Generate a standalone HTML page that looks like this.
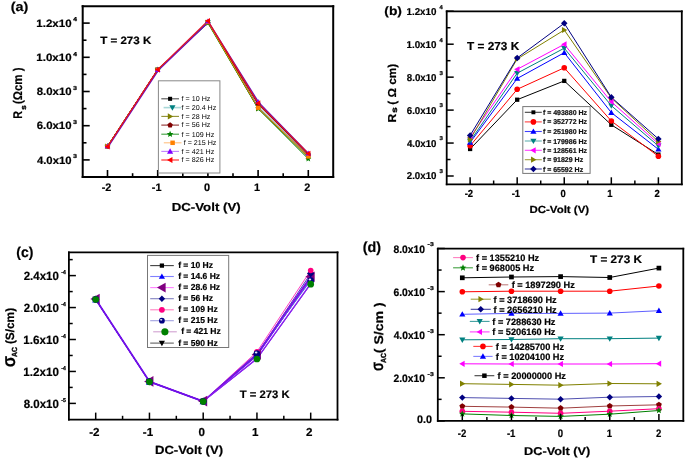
<!DOCTYPE html>
<html><head><meta charset="utf-8"><style>html,body{margin:0;padding:0;background:#fff;}body{width:685px;height:460px;overflow:hidden;}</style></head>
<body>
<svg width="685" height="460" viewBox="0 0 685 460" style="display:block;filter:blur(0.35px);text-rendering:geometricPrecision;font-family:'Liberation Sans',sans-serif">
<rect width="685" height="460" fill="#fff"/>
<polyline points="107.50,146.22 157.70,69.78 207.90,22.25 258.10,103.47 308.30,154.77" fill="none" stroke="#000000" stroke-width="1.0" stroke-linejoin="round" />
<polyline points="107.50,146.22 157.70,69.78 207.90,22.25 258.10,106.89 308.30,156.48" fill="none" stroke="#008080" stroke-width="1.0" stroke-linejoin="round" />
<polyline points="107.50,146.22 157.70,69.78 207.90,22.25 258.10,108.60 308.30,157.34" fill="none" stroke="#808000" stroke-width="1.0" stroke-linejoin="round" />
<polyline points="107.50,146.22 157.70,69.78 207.90,22.25 258.10,104.33 308.30,154.77" fill="none" stroke="#800000" stroke-width="1.0" stroke-linejoin="round" />
<polyline points="107.50,146.22 157.70,69.78 207.90,23.10 258.10,108.60 308.30,158.87" fill="none" stroke="#008000" stroke-width="1.0" stroke-linejoin="round" />
<polyline points="107.50,146.22 157.70,69.78 207.90,22.25 258.10,107.75 308.30,156.48" fill="none" stroke="#ff8000" stroke-width="1.0" stroke-linejoin="round" />
<polyline points="108.10,146.82 158.30,70.38 208.50,21.99 258.70,102.36 308.90,154.00" fill="none" stroke="#6a10c0" stroke-width="1.3" stroke-linejoin="round" />
<polyline points="107.50,146.56 157.70,69.61 207.90,20.88 258.10,103.13 308.30,153.57" fill="none" stroke="#e0102a" stroke-width="1.3" stroke-linejoin="round" />
<rect x="105.48" y="144.20" width="4.03" height="4.03" fill="#000000" />
<rect x="155.68" y="67.77" width="4.03" height="4.03" fill="#000000" />
<rect x="205.88" y="20.23" width="4.03" height="4.03" fill="#000000" />
<rect x="256.08" y="101.45" width="4.03" height="4.03" fill="#000000" />
<rect x="306.28" y="152.75" width="4.03" height="4.03" fill="#000000" />
<polygon points="107.50,149.05 110.33,144.09 104.67,144.09" fill="#008080" />
<polygon points="157.70,72.62 160.53,67.66 154.87,67.66" fill="#008080" />
<polygon points="207.90,25.08 210.73,20.12 205.07,20.12" fill="#008080" />
<polygon points="258.10,109.72 260.93,104.76 255.27,104.76" fill="#008080" />
<polygon points="308.30,159.31 311.13,154.35 305.47,154.35" fill="#008080" />
<polygon points="110.33,146.22 105.37,143.39 105.37,149.05" fill="#808000" />
<polygon points="160.53,69.78 155.57,66.95 155.57,72.62" fill="#808000" />
<polygon points="210.73,22.25 205.77,19.41 205.77,25.08" fill="#808000" />
<polygon points="260.93,108.60 255.97,105.77 255.97,111.43" fill="#808000" />
<polygon points="311.13,157.34 306.17,154.50 306.17,160.17" fill="#808000" />
<polygon points="107.50,143.75 109.64,144.99 109.64,147.45 107.50,148.69 105.36,147.45 105.36,144.99" fill="#800000" />
<polygon points="157.70,67.31 159.84,68.55 159.84,71.02 157.70,72.25 155.56,71.02 155.56,68.55" fill="#800000" />
<polygon points="207.90,19.78 210.04,21.01 210.04,23.48 207.90,24.71 205.76,23.48 205.76,21.01" fill="#800000" />
<polygon points="258.10,101.86 260.24,103.09 260.24,105.56 258.10,106.79 255.96,105.56 255.96,103.09" fill="#800000" />
<polygon points="308.30,152.30 310.44,153.54 310.44,156.00 308.30,157.24 306.16,156.00 306.16,153.54" fill="#800000" />
<polygon points="107.50,143.00 108.35,145.05 110.56,145.22 108.88,146.67 109.39,148.83 107.50,147.67 105.61,148.83 106.12,146.67 104.44,145.22 106.65,145.05" fill="#008000" />
<polygon points="157.70,66.56 158.55,68.61 160.76,68.79 159.08,70.23 159.59,72.39 157.70,71.23 155.81,72.39 156.32,70.23 154.64,68.79 156.85,68.61" fill="#008000" />
<polygon points="207.90,19.88 208.75,21.93 210.96,22.10 209.28,23.55 209.79,25.71 207.90,24.55 206.01,25.71 206.52,23.55 204.84,22.10 207.05,21.93" fill="#008000" />
<polygon points="258.10,105.38 258.95,107.43 261.16,107.60 259.48,109.05 259.99,111.21 258.10,110.05 256.21,111.21 256.72,109.05 255.04,107.60 257.25,107.43" fill="#008000" />
<polygon points="308.30,155.65 309.15,157.70 311.36,157.88 309.68,159.32 310.19,161.48 308.30,160.32 306.41,161.48 306.92,159.32 305.24,157.88 307.45,157.70" fill="#008000" />
<rect x="105.37" y="144.09" width="4.26" height="4.26" fill="#ff8000" />
<rect x="155.57" y="67.66" width="4.26" height="4.26" fill="#ff8000" />
<rect x="205.77" y="20.12" width="4.26" height="4.26" fill="#ff8000" />
<rect x="255.97" y="105.62" width="4.26" height="4.26" fill="#ff8000" />
<rect x="306.17" y="154.35" width="4.26" height="4.26" fill="#ff8000" />
<polygon points="107.50,143.39 110.33,148.35 104.67,148.35" fill="#8000ff" />
<polygon points="157.70,66.95 160.53,71.91 154.87,71.91" fill="#8000ff" />
<polygon points="207.90,18.56 210.73,23.52 205.07,23.52" fill="#8000ff" />
<polygon points="258.10,98.93 260.93,103.89 255.27,103.89" fill="#8000ff" />
<polygon points="308.30,150.57 311.13,155.53 305.47,155.53" fill="#8000ff" />
<polygon points="104.67,146.56 109.63,143.73 109.63,149.40" fill="#ff0000" />
<polygon points="154.87,69.61 159.83,66.78 159.83,72.45" fill="#ff0000" />
<polygon points="205.07,20.88 210.03,18.04 210.03,23.71" fill="#ff0000" />
<polygon points="255.27,103.13 260.23,100.29 260.23,105.96" fill="#ff0000" />
<polygon points="305.47,153.57 310.43,150.74 310.43,156.41" fill="#ff0000" />
<line x1="82.70" y1="5.20" x2="82.70" y2="178.00" stroke="#000" stroke-width="2.0" />
<line x1="333.20" y1="5.20" x2="333.20" y2="178.00" stroke="#000" stroke-width="2.0" />
<line x1="81.70" y1="6.20" x2="334.20" y2="6.20" stroke="#000" stroke-width="2.0" />
<line x1="81.70" y1="177.00" x2="334.20" y2="177.00" stroke="#000" stroke-width="2.0" />
<line x1="107.50" y1="177.00" x2="107.50" y2="170.00" stroke="#000" stroke-width="1.6" />
<line x1="157.70" y1="177.00" x2="157.70" y2="170.00" stroke="#000" stroke-width="1.6" />
<line x1="207.90" y1="177.00" x2="207.90" y2="170.00" stroke="#000" stroke-width="1.6" />
<line x1="258.10" y1="177.00" x2="258.10" y2="170.00" stroke="#000" stroke-width="1.6" />
<line x1="308.30" y1="177.00" x2="308.30" y2="170.00" stroke="#000" stroke-width="1.6" />
<line x1="132.60" y1="177.00" x2="132.60" y2="173.20" stroke="#000" stroke-width="1.6" />
<line x1="182.80" y1="177.00" x2="182.80" y2="173.20" stroke="#000" stroke-width="1.6" />
<line x1="233.00" y1="177.00" x2="233.00" y2="173.20" stroke="#000" stroke-width="1.6" />
<line x1="283.20" y1="177.00" x2="283.20" y2="173.20" stroke="#000" stroke-width="1.6" />
<line x1="82.70" y1="159.90" x2="89.70" y2="159.90" stroke="#000" stroke-width="1.6" />
<line x1="82.70" y1="125.70" x2="89.70" y2="125.70" stroke="#000" stroke-width="1.6" />
<line x1="82.70" y1="91.50" x2="89.70" y2="91.50" stroke="#000" stroke-width="1.6" />
<line x1="82.70" y1="57.30" x2="89.70" y2="57.30" stroke="#000" stroke-width="1.6" />
<line x1="82.70" y1="23.10" x2="89.70" y2="23.10" stroke="#000" stroke-width="1.6" />
<line x1="82.70" y1="142.80" x2="86.50" y2="142.80" stroke="#000" stroke-width="1.6" />
<line x1="82.70" y1="108.60" x2="86.50" y2="108.60" stroke="#000" stroke-width="1.6" />
<line x1="82.70" y1="74.40" x2="86.50" y2="74.40" stroke="#000" stroke-width="1.6" />
<line x1="82.70" y1="40.20" x2="86.50" y2="40.20" stroke="#000" stroke-width="1.6" />
<text x="36.93" y="163.60" font-size="10.6" font-weight="bold" fill="#000" stroke="#000" stroke-width="0.2" textLength="34.64" lengthAdjust="spacingAndGlyphs">4.0x10</text>
<text x="73.13" y="158.10" font-size="5.8" font-weight="bold" fill="#000" stroke="#000" stroke-width="0.25" textLength="4.03" lengthAdjust="spacingAndGlyphs">3</text>
<text x="36.68" y="129.40" font-size="10.6" font-weight="bold" fill="#000" stroke="#000" stroke-width="0.2" textLength="34.89" lengthAdjust="spacingAndGlyphs">6.0x10</text>
<text x="73.13" y="123.90" font-size="5.8" font-weight="bold" fill="#000" stroke="#000" stroke-width="0.25" textLength="4.03" lengthAdjust="spacingAndGlyphs">3</text>
<text x="36.74" y="95.20" font-size="10.6" font-weight="bold" fill="#000" stroke="#000" stroke-width="0.2" textLength="34.83" lengthAdjust="spacingAndGlyphs">8.0x10</text>
<text x="73.13" y="89.70" font-size="5.8" font-weight="bold" fill="#000" stroke="#000" stroke-width="0.25" textLength="4.03" lengthAdjust="spacingAndGlyphs">3</text>
<text x="36.38" y="61.00" font-size="10.6" font-weight="bold" fill="#000" stroke="#000" stroke-width="0.2" textLength="35.20" lengthAdjust="spacingAndGlyphs">1.0x10</text>
<text x="73.20" y="55.50" font-size="5.8" font-weight="bold" fill="#000" stroke="#000" stroke-width="0.25" textLength="3.74" lengthAdjust="spacingAndGlyphs">4</text>
<text x="36.38" y="26.80" font-size="10.6" font-weight="bold" fill="#000" stroke="#000" stroke-width="0.2" textLength="35.20" lengthAdjust="spacingAndGlyphs">1.2x10</text>
<text x="73.20" y="21.30" font-size="5.8" font-weight="bold" fill="#000" stroke="#000" stroke-width="0.25" textLength="3.74" lengthAdjust="spacingAndGlyphs">4</text>
<text x="101.66" y="190.60" font-size="10.9" font-weight="bold" fill="#000" stroke="#000" stroke-width="0.2" textLength="9.69" lengthAdjust="spacingAndGlyphs">-2</text>
<text x="151.79" y="190.60" font-size="10.9" font-weight="bold" fill="#000" stroke="#000" stroke-width="0.2" textLength="9.69" lengthAdjust="spacingAndGlyphs">-1</text>
<text x="203.88" y="190.60" font-size="10.9" font-weight="bold" fill="#000" stroke="#000" stroke-width="0.2" textLength="6.06" lengthAdjust="spacingAndGlyphs">0</text>
<text x="253.88" y="190.60" font-size="10.9" font-weight="bold" fill="#000" stroke="#000" stroke-width="0.2" textLength="6.06" lengthAdjust="spacingAndGlyphs">1</text>
<text x="304.30" y="190.60" font-size="10.9" font-weight="bold" fill="#000" stroke="#000" stroke-width="0.2" textLength="6.06" lengthAdjust="spacingAndGlyphs">2</text>
<text x="171.73" y="210.50" font-size="11.6" font-weight="bold" fill="#000" stroke="#000" stroke-width="0.2" textLength="68.92" lengthAdjust="spacingAndGlyphs">DC-Volt (V)</text>
<g transform="translate(22.0,118.6) rotate(-90)">
<text x="-0.12" y="0.00" font-size="12.6" font-weight="bold" fill="#000" stroke="#000" stroke-width="0.2" textLength="7.74" lengthAdjust="spacingAndGlyphs">R</text>
<text x="8.81" y="3.90" font-size="7.5" font-weight="bold" fill="#000" stroke="#000" stroke-width="0.35" textLength="4.52" lengthAdjust="spacingAndGlyphs">s</text>
<text x="14.53" y="0.00" font-size="12.6" font-weight="bold" fill="#000" stroke="#000" stroke-width="0.2" textLength="36.54" lengthAdjust="spacingAndGlyphs">(Ωcm )</text>
</g>
<text x="100.17" y="44.10" font-size="10.6" font-weight="bold" fill="#000" stroke="#000" stroke-width="0.2" textLength="51.14" lengthAdjust="spacingAndGlyphs">T = 273 K</text>
<text x="10.69" y="11.00" font-size="12.9" font-weight="bold" fill="#000" stroke="#000" stroke-width="0.2" textLength="17.53" lengthAdjust="spacingAndGlyphs">(a)</text>
<rect x="158.4" y="80.8" width="61.5" height="92.2" fill="#fff" stroke="#888" stroke-width="1"/>
<line x1="161.30" y1="98.80" x2="179.00" y2="98.80" stroke="#505050" stroke-width="1.1" />
<rect x="168.08" y="96.78" width="4.03" height="4.03" fill="#000000" />
<text x="181.60" y="101.10" font-size="7.0" font-weight="normal" fill="#000" textLength="28.77" lengthAdjust="spacingAndGlyphs">f = 10 Hz</text>
<line x1="163.60" y1="107.60" x2="181.30" y2="107.60" stroke="#a8d8d8" stroke-width="1.6" />
<polygon points="172.40,110.68 175.48,105.29 169.32,105.29" fill="#008080" />
<text x="181.60" y="109.90" font-size="7.0" font-weight="normal" fill="#000" textLength="34.73" lengthAdjust="spacingAndGlyphs">f = 20.4 Hz</text>
<line x1="161.30" y1="116.40" x2="179.00" y2="116.40" stroke="#909030" stroke-width="1.1" />
<polygon points="173.18,116.40 167.79,113.32 167.79,119.48" fill="#808000" />
<text x="181.60" y="118.70" font-size="7.0" font-weight="normal" fill="#000" textLength="28.77" lengthAdjust="spacingAndGlyphs">f = 28 Hz</text>
<line x1="161.30" y1="125.10" x2="179.00" y2="125.10" stroke="#903030" stroke-width="1.1" />
<polygon points="170.10,122.27 172.79,124.22 171.77,127.39 168.43,127.39 167.41,124.22" fill="#800000" />
<text x="181.60" y="127.40" font-size="7.0" font-weight="normal" fill="#000" textLength="28.77" lengthAdjust="spacingAndGlyphs">f = 56 Hz</text>
<line x1="161.30" y1="134.20" x2="179.00" y2="134.20" stroke="#40a040" stroke-width="1.1" />
<polygon points="170.10,130.70 171.03,132.93 173.43,133.12 171.60,134.69 172.16,137.03 170.10,135.77 168.04,137.03 168.60,134.69 166.77,133.12 169.17,132.93" fill="#008000" />
<text x="181.60" y="136.50" font-size="7.0" font-weight="normal" fill="#000" textLength="32.74" lengthAdjust="spacingAndGlyphs">f = 109 Hz</text>
<line x1="163.80" y1="142.80" x2="181.50" y2="142.80" stroke="#ffc080" stroke-width="1.1" />
<rect x="170.36" y="140.56" width="4.48" height="4.48" fill="#ff8000" />
<text x="183.70" y="145.10" font-size="7.0" font-weight="normal" fill="#000" textLength="32.74" lengthAdjust="spacingAndGlyphs">f = 215 Hz</text>
<line x1="161.30" y1="151.40" x2="179.00" y2="151.40" stroke="#c080ff" stroke-width="1.1" />
<polygon points="170.10,148.32 173.18,153.71 167.02,153.71" fill="#8000ff" />
<text x="181.60" y="153.70" font-size="7.0" font-weight="normal" fill="#000" textLength="32.74" lengthAdjust="spacingAndGlyphs">f = 421 Hz</text>
<line x1="161.30" y1="160.00" x2="179.00" y2="160.00" stroke="#ff2020" stroke-width="1.1" />
<polygon points="167.02,160.00 172.41,156.92 172.41,163.08" fill="#ff0000" />
<text x="181.60" y="162.30" font-size="7.0" font-weight="normal" fill="#000" textLength="32.74" lengthAdjust="spacingAndGlyphs">f = 826 Hz</text>
<polyline points="470.11,149.00 517.18,99.70 564.25,80.90 611.32,124.80 658.39,154.60" fill="none" stroke="#000000" stroke-width="1.0" stroke-linejoin="round" />
<polyline points="470.11,145.80 517.18,89.30 564.25,67.80 611.32,121.00 658.39,156.30" fill="none" stroke="#ff0000" stroke-width="1.0" stroke-linejoin="round" />
<polyline points="470.11,142.50 517.18,78.50 564.25,52.70 611.32,112.60 658.39,149.30" fill="none" stroke="#0000ff" stroke-width="1.0" stroke-linejoin="round" />
<polyline points="470.11,141.00 517.18,73.20 564.25,48.20 611.32,105.70 658.39,145.90" fill="none" stroke="#008080" stroke-width="1.0" stroke-linejoin="round" />
<polyline points="470.11,137.50 517.18,69.30 564.25,44.30 611.32,101.80 658.39,143.70" fill="none" stroke="#ff00ff" stroke-width="1.0" stroke-linejoin="round" />
<polyline points="470.11,139.30 517.18,59.00 564.25,30.00 611.32,98.00 658.39,141.50" fill="none" stroke="#808000" stroke-width="1.0" stroke-linejoin="round" />
<polyline points="470.11,135.40 517.18,58.00 564.25,23.30 611.32,97.30 658.39,138.90" fill="none" stroke="#000080" stroke-width="1.0" stroke-linejoin="round" />
<rect x="467.98" y="146.87" width="4.26" height="4.26" fill="#000000" />
<rect x="515.05" y="97.57" width="4.26" height="4.26" fill="#000000" />
<rect x="562.12" y="78.77" width="4.26" height="4.26" fill="#000000" />
<rect x="609.19" y="122.67" width="4.26" height="4.26" fill="#000000" />
<rect x="656.26" y="152.47" width="4.26" height="4.26" fill="#000000" />
<circle cx="470.11" cy="145.80" r="2.80" fill="#ff0000" />
<circle cx="517.18" cy="89.30" r="2.80" fill="#ff0000" />
<circle cx="564.25" cy="67.80" r="2.80" fill="#ff0000" />
<circle cx="611.32" cy="121.00" r="2.80" fill="#ff0000" />
<circle cx="658.39" cy="156.30" r="2.80" fill="#ff0000" />
<polygon points="470.11,139.42 473.19,144.81 467.03,144.81" fill="#0000ff" />
<polygon points="517.18,75.42 520.26,80.81 514.10,80.81" fill="#0000ff" />
<polygon points="564.25,49.62 567.33,55.01 561.17,55.01" fill="#0000ff" />
<polygon points="611.32,109.52 614.40,114.91 608.24,114.91" fill="#0000ff" />
<polygon points="658.39,146.22 661.47,151.61 655.31,151.61" fill="#0000ff" />
<polygon points="470.11,144.08 473.19,138.69 467.03,138.69" fill="#008080" />
<polygon points="517.18,76.28 520.26,70.89 514.10,70.89" fill="#008080" />
<polygon points="564.25,51.28 567.33,45.89 561.17,45.89" fill="#008080" />
<polygon points="611.32,108.78 614.40,103.39 608.24,103.39" fill="#008080" />
<polygon points="658.39,148.98 661.47,143.59 655.31,143.59" fill="#008080" />
<polygon points="467.03,137.50 472.42,134.42 472.42,140.58" fill="#ff00ff" />
<polygon points="514.10,69.30 519.49,66.22 519.49,72.38" fill="#ff00ff" />
<polygon points="561.17,44.30 566.56,41.22 566.56,47.38" fill="#ff00ff" />
<polygon points="608.24,101.80 613.63,98.72 613.63,104.88" fill="#ff00ff" />
<polygon points="655.31,143.70 660.70,140.62 660.70,146.78" fill="#ff00ff" />
<polygon points="473.19,139.30 467.80,136.22 467.80,142.38" fill="#808000" />
<polygon points="520.26,59.00 514.87,55.92 514.87,62.08" fill="#808000" />
<polygon points="567.33,30.00 561.94,26.92 561.94,33.08" fill="#808000" />
<polygon points="614.40,98.00 609.01,94.92 609.01,101.08" fill="#808000" />
<polygon points="661.47,141.50 656.08,138.42 656.08,144.58" fill="#808000" />
<polygon points="470.11,132.18 473.33,135.40 470.11,138.62 466.89,135.40" fill="#000080" />
<polygon points="517.18,54.78 520.40,58.00 517.18,61.22 513.96,58.00" fill="#000080" />
<polygon points="564.25,20.08 567.47,23.30 564.25,26.52 561.03,23.30" fill="#000080" />
<polygon points="611.32,94.08 614.54,97.30 611.32,100.52 608.10,97.30" fill="#000080" />
<polygon points="658.39,135.68 661.61,138.90 658.39,142.12 655.17,138.90" fill="#000080" />
<line x1="446.70" y1="10.40" x2="446.70" y2="185.20" stroke="#000" stroke-width="1.8" />
<line x1="681.80" y1="10.40" x2="681.80" y2="185.20" stroke="#000" stroke-width="1.8" />
<line x1="445.80" y1="11.30" x2="682.70" y2="11.30" stroke="#000" stroke-width="1.8" />
<line x1="445.80" y1="184.30" x2="682.70" y2="184.30" stroke="#000" stroke-width="1.8" />
<line x1="470.11" y1="184.30" x2="470.11" y2="177.30" stroke="#000" stroke-width="1.5" />
<line x1="517.18" y1="184.30" x2="517.18" y2="177.30" stroke="#000" stroke-width="1.5" />
<line x1="564.25" y1="184.30" x2="564.25" y2="177.30" stroke="#000" stroke-width="1.5" />
<line x1="611.32" y1="184.30" x2="611.32" y2="177.30" stroke="#000" stroke-width="1.5" />
<line x1="658.39" y1="184.30" x2="658.39" y2="177.30" stroke="#000" stroke-width="1.5" />
<line x1="493.64" y1="184.30" x2="493.64" y2="180.50" stroke="#000" stroke-width="1.5" />
<line x1="540.72" y1="184.30" x2="540.72" y2="180.50" stroke="#000" stroke-width="1.5" />
<line x1="587.78" y1="184.30" x2="587.78" y2="180.50" stroke="#000" stroke-width="1.5" />
<line x1="634.86" y1="184.30" x2="634.86" y2="180.50" stroke="#000" stroke-width="1.5" />
<line x1="446.70" y1="176.00" x2="453.70" y2="176.00" stroke="#000" stroke-width="1.5" />
<line x1="446.70" y1="143.05" x2="453.70" y2="143.05" stroke="#000" stroke-width="1.5" />
<line x1="446.70" y1="110.10" x2="453.70" y2="110.10" stroke="#000" stroke-width="1.5" />
<line x1="446.70" y1="77.15" x2="453.70" y2="77.15" stroke="#000" stroke-width="1.5" />
<line x1="446.70" y1="44.20" x2="453.70" y2="44.20" stroke="#000" stroke-width="1.5" />
<line x1="446.70" y1="11.25" x2="453.70" y2="11.25" stroke="#000" stroke-width="1.5" />
<line x1="446.70" y1="159.53" x2="450.50" y2="159.53" stroke="#000" stroke-width="1.5" />
<line x1="446.70" y1="126.58" x2="450.50" y2="126.58" stroke="#000" stroke-width="1.5" />
<line x1="446.70" y1="93.62" x2="450.50" y2="93.62" stroke="#000" stroke-width="1.5" />
<line x1="446.70" y1="60.67" x2="450.50" y2="60.67" stroke="#000" stroke-width="1.5" />
<line x1="446.70" y1="27.72" x2="450.50" y2="27.72" stroke="#000" stroke-width="1.5" />
<text x="406.76" y="179.45" font-size="10.0" font-weight="bold" fill="#000" stroke="#000" stroke-width="0.2" textLength="29.74" lengthAdjust="spacingAndGlyphs">2.0x10</text>
<text x="439.46" y="173.35" font-size="5.6" font-weight="bold" fill="#000" stroke="#000" stroke-width="0.25" textLength="3.47" lengthAdjust="spacingAndGlyphs">3</text>
<text x="406.95" y="146.50" font-size="10.0" font-weight="bold" fill="#000" stroke="#000" stroke-width="0.2" textLength="29.54" lengthAdjust="spacingAndGlyphs">4.0x10</text>
<text x="439.46" y="140.40" font-size="5.6" font-weight="bold" fill="#000" stroke="#000" stroke-width="0.25" textLength="3.47" lengthAdjust="spacingAndGlyphs">3</text>
<text x="406.74" y="113.55" font-size="10.0" font-weight="bold" fill="#000" stroke="#000" stroke-width="0.2" textLength="29.76" lengthAdjust="spacingAndGlyphs">6.0x10</text>
<text x="439.46" y="107.45" font-size="5.6" font-weight="bold" fill="#000" stroke="#000" stroke-width="0.25" textLength="3.47" lengthAdjust="spacingAndGlyphs">3</text>
<text x="406.79" y="80.60" font-size="10.0" font-weight="bold" fill="#000" stroke="#000" stroke-width="0.2" textLength="29.71" lengthAdjust="spacingAndGlyphs">8.0x10</text>
<text x="439.46" y="74.50" font-size="5.6" font-weight="bold" fill="#000" stroke="#000" stroke-width="0.25" textLength="3.47" lengthAdjust="spacingAndGlyphs">3</text>
<text x="406.48" y="47.65" font-size="10.0" font-weight="bold" fill="#000" stroke="#000" stroke-width="0.2" textLength="30.02" lengthAdjust="spacingAndGlyphs">1.0x10</text>
<text x="439.51" y="41.55" font-size="5.6" font-weight="bold" fill="#000" stroke="#000" stroke-width="0.25" textLength="3.22" lengthAdjust="spacingAndGlyphs">4</text>
<text x="406.48" y="14.70" font-size="10.0" font-weight="bold" fill="#000" stroke="#000" stroke-width="0.2" textLength="30.02" lengthAdjust="spacingAndGlyphs">1.2x10</text>
<text x="439.51" y="8.60" font-size="5.6" font-weight="bold" fill="#000" stroke="#000" stroke-width="0.25" textLength="3.22" lengthAdjust="spacingAndGlyphs">4</text>
<text x="464.70" y="197.20" font-size="10.3" font-weight="bold" fill="#000" stroke="#000" stroke-width="0.2" textLength="8.43" lengthAdjust="spacingAndGlyphs">-2</text>
<text x="511.71" y="197.20" font-size="10.3" font-weight="bold" fill="#000" stroke="#000" stroke-width="0.2" textLength="8.43" lengthAdjust="spacingAndGlyphs">-1</text>
<text x="560.42" y="197.20" font-size="10.3" font-weight="bold" fill="#000" stroke="#000" stroke-width="0.2" textLength="5.27" lengthAdjust="spacingAndGlyphs">0</text>
<text x="607.32" y="197.20" font-size="10.3" font-weight="bold" fill="#000" stroke="#000" stroke-width="0.2" textLength="5.27" lengthAdjust="spacingAndGlyphs">1</text>
<text x="654.58" y="197.20" font-size="10.3" font-weight="bold" fill="#000" stroke="#000" stroke-width="0.2" textLength="5.27" lengthAdjust="spacingAndGlyphs">2</text>
<text x="529.44" y="213.30" font-size="10.3" font-weight="bold" fill="#000" stroke="#000" stroke-width="0.2" textLength="59.72" lengthAdjust="spacingAndGlyphs">DC-Volt (V)</text>
<g transform="translate(396.0,122.2) rotate(-90)">
<text x="-0.21" y="0.00" font-size="11.5" font-weight="bold" fill="#000" stroke="#000" stroke-width="0.2" textLength="8.76" lengthAdjust="spacingAndGlyphs">R</text>
<text x="9.36" y="1.00" font-size="8.0" font-weight="bold" fill="#000" stroke="#000" stroke-width="0.35" textLength="5.45" lengthAdjust="spacingAndGlyphs">s</text>
<text x="17.51" y="0.00" font-size="11.5" font-weight="bold" fill="#000" stroke="#000" stroke-width="0.2" textLength="40.87" lengthAdjust="spacingAndGlyphs">( Ω cm)</text>
</g>
<text x="467.07" y="50.20" font-size="11.6" font-weight="bold" fill="#000" stroke="#000" stroke-width="0.2" textLength="52.14" lengthAdjust="spacingAndGlyphs">T = 273 K</text>
<text x="384.31" y="15.30" font-size="12.0" font-weight="bold" fill="#000" stroke="#000" stroke-width="0.2" textLength="17.68" lengthAdjust="spacingAndGlyphs">(b)</text>
<rect x="522.8" y="106.6" width="67.30000000000007" height="66.80000000000001" fill="#fff" stroke="#777" stroke-width="1"/>
<line x1="524.80" y1="112.30" x2="541.80" y2="112.30" stroke="#404040" stroke-width="1.1" />
<rect x="531.44" y="110.34" width="3.92" height="3.92" fill="#000000" />
<text x="542.88" y="114.80" font-size="7.0" font-weight="bold" fill="#111" stroke="#111" stroke-width="0.2" textLength="44.17" lengthAdjust="spacingAndGlyphs">f = 493880 Hz</text>
<line x1="524.80" y1="121.90" x2="541.80" y2="121.90" stroke="#ff4040" stroke-width="1.1" />
<circle cx="533.40" cy="121.90" r="2.80" fill="#ff0000" />
<text x="542.88" y="124.40" font-size="7.0" font-weight="bold" fill="#111" stroke="#111" stroke-width="0.2" textLength="44.17" lengthAdjust="spacingAndGlyphs">f = 352772 Hz</text>
<line x1="524.80" y1="131.50" x2="541.80" y2="131.50" stroke="#4040ff" stroke-width="1.1" />
<polygon points="533.40,128.42 536.48,133.81 530.32,133.81" fill="#0000ff" />
<text x="542.88" y="134.00" font-size="7.0" font-weight="bold" fill="#111" stroke="#111" stroke-width="0.2" textLength="44.17" lengthAdjust="spacingAndGlyphs">f = 251980 Hz</text>
<line x1="524.80" y1="141.00" x2="541.80" y2="141.00" stroke="#a0d0d0" stroke-width="1.8" />
<polygon points="533.40,144.08 536.48,138.69 530.32,138.69" fill="#008080" />
<text x="542.88" y="143.50" font-size="7.0" font-weight="bold" fill="#111" stroke="#111" stroke-width="0.2" textLength="44.17" lengthAdjust="spacingAndGlyphs">f = 179986 Hz</text>
<line x1="524.80" y1="150.30" x2="541.80" y2="150.30" stroke="#ff40ff" stroke-width="1.1" />
<polygon points="530.32,150.30 535.71,147.22 535.71,153.38" fill="#ff00ff" />
<text x="542.88" y="152.80" font-size="7.0" font-weight="bold" fill="#111" stroke="#111" stroke-width="0.2" textLength="44.17" lengthAdjust="spacingAndGlyphs">f = 128561 Hz</text>
<line x1="524.80" y1="159.70" x2="541.80" y2="159.70" stroke="#a0a040" stroke-width="1.1" />
<polygon points="536.48,159.70 531.09,156.62 531.09,162.78" fill="#808000" />
<text x="542.88" y="162.20" font-size="7.0" font-weight="bold" fill="#111" stroke="#111" stroke-width="0.2" textLength="40.27" lengthAdjust="spacingAndGlyphs">f = 91829 Hz</text>
<line x1="524.80" y1="169.00" x2="541.80" y2="169.00" stroke="#4040a0" stroke-width="1.1" />
<polygon points="533.40,165.78 536.62,169.00 533.40,172.22 530.18,169.00" fill="#000080" />
<text x="542.88" y="171.50" font-size="7.0" font-weight="bold" fill="#111" stroke="#111" stroke-width="0.2" textLength="40.27" lengthAdjust="spacingAndGlyphs">f = 65592 Hz</text>
<polyline points="95.70,299.30 149.45,381.60 203.20,401.30 256.95,356.00 310.70,278.00" fill="none" stroke="#7010e8" stroke-width="1.0" stroke-linejoin="round" />
<polyline points="95.70,299.30 149.45,381.60 203.20,401.30 256.95,355.50 310.70,277.50" fill="none" stroke="#8010e0" stroke-width="1.0" stroke-linejoin="round" />
<polyline points="95.70,299.00 149.45,381.40 203.20,401.10 256.95,354.50 310.70,276.70" fill="none" stroke="#c040e0" stroke-width="1.0" stroke-linejoin="round" />
<polyline points="95.70,299.80 149.45,382.00 203.20,401.60 256.95,355.00 310.70,279.50" fill="none" stroke="#6020ff" stroke-width="1.0" stroke-linejoin="round" />
<polyline points="95.70,299.30 149.45,381.60 203.20,401.30 256.95,354.50 310.70,273.50" fill="none" stroke="#5030c0" stroke-width="1.0" stroke-linejoin="round" />
<polyline points="95.70,299.30 149.45,381.60 203.20,401.30 256.95,351.80 310.70,270.50" fill="none" stroke="#ff40c0" stroke-width="1.0" stroke-linejoin="round" />
<polyline points="95.70,299.30 149.45,381.60 203.20,401.30 256.95,353.50 310.70,280.50" fill="none" stroke="#6060e0" stroke-width="1.0" stroke-linejoin="round" />
<polyline points="95.70,299.50 149.45,381.80 203.20,401.50 256.95,359.00 310.70,284.20" fill="none" stroke="#9040e0" stroke-width="1.0" stroke-linejoin="round" />
<polyline points="95.70,299.30 149.45,381.60 203.20,401.30" fill="none" stroke="#7010e8" stroke-width="1.8" stroke-linejoin="round" />
<polyline points="203.20,401.30 256.95,353.80 310.70,276.50" fill="none" stroke="#7a10e0" stroke-width="1.4" stroke-linejoin="round" />
<polyline points="203.20,401.30 256.95,358.60 310.70,283.60" fill="none" stroke="#8a20f0" stroke-width="1.4" stroke-linejoin="round" />
<polygon points="95.70,302.75 99.15,296.71 92.25,296.71" fill="#000000" />
<polygon points="149.45,385.05 152.90,379.01 146.00,379.01" fill="#000000" />
<polygon points="203.20,404.75 206.65,398.71 199.75,398.71" fill="#000000" />
<polygon points="256.95,359.45 260.40,353.41 253.50,353.41" fill="#000000" />
<polygon points="310.70,281.45 314.15,275.41 307.25,275.41" fill="#000000" />
<rect x="93.35" y="296.95" width="4.70" height="4.70" fill="#000000" />
<rect x="147.10" y="379.25" width="4.70" height="4.70" fill="#000000" />
<rect x="200.85" y="398.95" width="4.70" height="4.70" fill="#000000" />
<rect x="254.60" y="353.15" width="4.70" height="4.70" fill="#000000" />
<rect x="308.35" y="275.15" width="4.70" height="4.70" fill="#000000" />
<polygon points="90.40,299.00 99.67,293.70 99.67,304.30" fill="#800080" />
<polygon points="144.15,381.40 153.42,376.10 153.42,386.70" fill="#800080" />
<polygon points="197.90,401.10 207.17,395.80 207.17,406.40" fill="#800080" />
<polygon points="251.65,354.50 260.92,349.20 260.92,359.80" fill="#800080" />
<polygon points="305.40,276.70 314.67,271.40 314.67,282.00" fill="#800080" />
<polygon points="95.70,296.23 99.27,302.48 92.13,302.48" fill="#0000ff" />
<polygon points="149.45,378.43 153.02,384.68 145.88,384.68" fill="#0000ff" />
<polygon points="203.20,398.03 206.77,404.28 199.63,404.28" fill="#0000ff" />
<polygon points="256.95,351.43 260.52,357.68 253.38,357.68" fill="#0000ff" />
<polygon points="310.70,275.93 314.27,282.18 307.13,282.18" fill="#0000ff" />
<polygon points="95.70,295.56 99.44,299.30 95.70,303.04 91.96,299.30" fill="#000080" />
<polygon points="149.45,377.86 153.19,381.60 149.45,385.34 145.71,381.60" fill="#000080" />
<polygon points="203.20,397.56 206.94,401.30 203.20,405.04 199.46,401.30" fill="#000080" />
<polygon points="256.95,350.76 260.69,354.50 256.95,358.24 253.21,354.50" fill="#000080" />
<polygon points="310.70,269.76 314.44,273.50 310.70,277.24 306.96,273.50" fill="#000080" />
<circle cx="95.70" cy="299.30" r="2.80" fill="#ff0080" />
<circle cx="149.45" cy="381.60" r="2.80" fill="#ff0080" />
<circle cx="203.20" cy="401.30" r="2.80" fill="#ff0080" />
<circle cx="256.95" cy="351.80" r="2.80" fill="#ff0080" />
<circle cx="310.70" cy="270.50" r="2.80" fill="#ff0080" />
<circle cx="95.70" cy="299.30" r="3.25" fill="#000080" />
<ellipse cx="94.89" cy="298.33" rx="1.30" ry="0.91" fill="#fff" opacity="0.9"/>
<circle cx="149.45" cy="381.60" r="3.25" fill="#000080" />
<ellipse cx="148.64" cy="380.63" rx="1.30" ry="0.91" fill="#fff" opacity="0.9"/>
<circle cx="203.20" cy="401.30" r="3.25" fill="#000080" />
<ellipse cx="202.39" cy="400.33" rx="1.30" ry="0.91" fill="#fff" opacity="0.9"/>
<circle cx="256.95" cy="353.50" r="3.25" fill="#000080" />
<ellipse cx="256.14" cy="352.53" rx="1.30" ry="0.91" fill="#fff" opacity="0.9"/>
<circle cx="310.70" cy="280.50" r="3.25" fill="#000080" />
<ellipse cx="309.89" cy="279.53" rx="1.30" ry="0.91" fill="#fff" opacity="0.9"/>
<circle cx="95.70" cy="299.50" r="3.36" fill="#008000" />
<circle cx="149.45" cy="381.80" r="3.36" fill="#008000" />
<circle cx="203.20" cy="401.50" r="3.36" fill="#008000" />
<circle cx="256.95" cy="359.00" r="3.36" fill="#008000" />
<circle cx="310.70" cy="284.20" r="3.36" fill="#008000" />
<line x1="68.90" y1="251.50" x2="68.90" y2="420.50" stroke="#000" stroke-width="1.8" />
<line x1="337.50" y1="251.50" x2="337.50" y2="420.50" stroke="#000" stroke-width="1.8" />
<line x1="68.00" y1="252.40" x2="338.40" y2="252.40" stroke="#000" stroke-width="1.8" />
<line x1="68.00" y1="419.60" x2="338.40" y2="419.60" stroke="#000" stroke-width="1.8" />
<line x1="95.70" y1="419.60" x2="95.70" y2="412.60" stroke="#000" stroke-width="1.5" />
<line x1="149.45" y1="419.60" x2="149.45" y2="412.60" stroke="#000" stroke-width="1.5" />
<line x1="203.20" y1="419.60" x2="203.20" y2="412.60" stroke="#000" stroke-width="1.5" />
<line x1="256.95" y1="419.60" x2="256.95" y2="412.60" stroke="#000" stroke-width="1.5" />
<line x1="310.70" y1="419.60" x2="310.70" y2="412.60" stroke="#000" stroke-width="1.5" />
<line x1="122.57" y1="419.60" x2="122.57" y2="415.80" stroke="#000" stroke-width="1.5" />
<line x1="176.32" y1="419.60" x2="176.32" y2="415.80" stroke="#000" stroke-width="1.5" />
<line x1="230.07" y1="419.60" x2="230.07" y2="415.80" stroke="#000" stroke-width="1.5" />
<line x1="283.82" y1="419.60" x2="283.82" y2="415.80" stroke="#000" stroke-width="1.5" />
<line x1="68.90" y1="403.40" x2="75.90" y2="403.40" stroke="#000" stroke-width="1.5" />
<line x1="68.90" y1="371.45" x2="75.90" y2="371.45" stroke="#000" stroke-width="1.5" />
<line x1="68.90" y1="339.50" x2="75.90" y2="339.50" stroke="#000" stroke-width="1.5" />
<line x1="68.90" y1="307.55" x2="75.90" y2="307.55" stroke="#000" stroke-width="1.5" />
<line x1="68.90" y1="275.60" x2="75.90" y2="275.60" stroke="#000" stroke-width="1.5" />
<line x1="68.90" y1="387.42" x2="72.70" y2="387.42" stroke="#000" stroke-width="1.5" />
<line x1="68.90" y1="355.47" x2="72.70" y2="355.47" stroke="#000" stroke-width="1.5" />
<line x1="68.90" y1="323.52" x2="72.70" y2="323.52" stroke="#000" stroke-width="1.5" />
<line x1="68.90" y1="291.57" x2="72.70" y2="291.57" stroke="#000" stroke-width="1.5" />
<line x1="68.90" y1="259.62" x2="72.70" y2="259.62" stroke="#000" stroke-width="1.5" />
<text x="23.74" y="407.50" font-size="11.9" font-weight="bold" fill="#000" stroke="#000" stroke-width="0.2" textLength="35.14" lengthAdjust="spacingAndGlyphs">8.0x10</text>
<text x="61.30" y="401.60" font-size="5.7" font-weight="bold" fill="#000" stroke="#000" stroke-width="0.25" textLength="4.65" lengthAdjust="spacingAndGlyphs">-5</text>
<text x="23.37" y="375.55" font-size="11.9" font-weight="bold" fill="#000" stroke="#000" stroke-width="0.2" textLength="35.51" lengthAdjust="spacingAndGlyphs">1.2x10</text>
<text x="61.30" y="369.65" font-size="5.7" font-weight="bold" fill="#000" stroke="#000" stroke-width="0.25" textLength="4.53" lengthAdjust="spacingAndGlyphs">-4</text>
<text x="23.37" y="343.60" font-size="11.9" font-weight="bold" fill="#000" stroke="#000" stroke-width="0.2" textLength="35.51" lengthAdjust="spacingAndGlyphs">1.6x10</text>
<text x="61.30" y="337.70" font-size="5.7" font-weight="bold" fill="#000" stroke="#000" stroke-width="0.25" textLength="4.53" lengthAdjust="spacingAndGlyphs">-4</text>
<text x="23.70" y="311.65" font-size="11.9" font-weight="bold" fill="#000" stroke="#000" stroke-width="0.2" textLength="35.17" lengthAdjust="spacingAndGlyphs">2.0x10</text>
<text x="61.30" y="305.75" font-size="5.7" font-weight="bold" fill="#000" stroke="#000" stroke-width="0.25" textLength="4.53" lengthAdjust="spacingAndGlyphs">-4</text>
<text x="23.70" y="279.70" font-size="11.9" font-weight="bold" fill="#000" stroke="#000" stroke-width="0.2" textLength="35.17" lengthAdjust="spacingAndGlyphs">2.4x10</text>
<text x="61.30" y="273.80" font-size="5.7" font-weight="bold" fill="#000" stroke="#000" stroke-width="0.25" textLength="4.53" lengthAdjust="spacingAndGlyphs">-4</text>
<text x="89.15" y="436.20" font-size="11.6" font-weight="bold" fill="#000" stroke="#000" stroke-width="0.2" textLength="10.31" lengthAdjust="spacingAndGlyphs">-2</text>
<text x="142.83" y="436.20" font-size="11.6" font-weight="bold" fill="#000" stroke="#000" stroke-width="0.2" textLength="10.31" lengthAdjust="spacingAndGlyphs">-1</text>
<text x="198.58" y="436.20" font-size="11.6" font-weight="bold" fill="#000" stroke="#000" stroke-width="0.2" textLength="6.45" lengthAdjust="spacingAndGlyphs">0</text>
<text x="252.12" y="436.20" font-size="11.6" font-weight="bold" fill="#000" stroke="#000" stroke-width="0.2" textLength="6.45" lengthAdjust="spacingAndGlyphs">1</text>
<text x="306.11" y="436.20" font-size="11.6" font-weight="bold" fill="#000" stroke="#000" stroke-width="0.2" textLength="6.45" lengthAdjust="spacingAndGlyphs">2</text>
<text x="154.94" y="454.40" font-size="11.9" font-weight="bold" fill="#000" stroke="#000" stroke-width="0.2" textLength="68.11" lengthAdjust="spacingAndGlyphs">DC-Volt (V)</text>
<g transform="translate(0,367.0) rotate(-90)">
<text x="-0.34" y="15.00" font-size="18.5" font-weight="bold" fill="#000" stroke="#000" stroke-width="0.2" textLength="11.26" lengthAdjust="spacingAndGlyphs">σ</text>
<text x="10.03" y="16.60" font-size="7.4" font-weight="bold" fill="#000" stroke="#000" stroke-width="0.35" textLength="9.86" lengthAdjust="spacingAndGlyphs">AC</text>
<text x="22.91" y="14.10" font-size="12.0" font-weight="bold" fill="#000" stroke="#000" stroke-width="0.2" textLength="36.18" lengthAdjust="spacingAndGlyphs">(S/cm)</text>
</g>
<text x="239.77" y="398.40" font-size="10.9" font-weight="bold" fill="#000" stroke="#000" stroke-width="0.2" textLength="49.83" lengthAdjust="spacingAndGlyphs">T = 273 K</text>
<text x="16.30" y="256.80" font-size="14.3" font-weight="bold" fill="#000" stroke="#000" stroke-width="0.2" textLength="17.09" lengthAdjust="spacingAndGlyphs">(c)</text>
<rect x="147.5" y="255.4" width="81.19999999999999" height="92.1" fill="#fff" stroke="#777" stroke-width="1"/>
<line x1="150.20" y1="265.60" x2="173.80" y2="265.60" stroke="#404040" stroke-width="1.1" />
<rect x="159.77" y="263.47" width="4.26" height="4.26" fill="#000000" />
<text x="178.15" y="268.20" font-size="8.7" font-weight="bold" fill="#000" stroke="#000" stroke-width="0.2" textLength="34.83" lengthAdjust="spacingAndGlyphs">f = 10 Hz</text>
<line x1="150.20" y1="276.50" x2="173.80" y2="276.50" stroke="#8080ff" stroke-width="1.1" />
<polygon points="161.90,273.42 164.98,278.81 158.82,278.81" fill="#0000ff" />
<text x="178.15" y="279.10" font-size="8.7" font-weight="bold" fill="#000" stroke="#000" stroke-width="0.2" textLength="41.94" lengthAdjust="spacingAndGlyphs">f = 14.6 Hz</text>
<line x1="150.20" y1="287.60" x2="173.80" y2="287.60" stroke="#ff80ff" stroke-width="1.1" />
<polygon points="156.97,287.60 165.60,282.67 165.60,292.53" fill="#800080" />
<text x="178.15" y="290.20" font-size="8.7" font-weight="bold" fill="#000" stroke="#000" stroke-width="0.2" textLength="41.94" lengthAdjust="spacingAndGlyphs">f = 28.6 Hz</text>
<line x1="150.20" y1="298.70" x2="173.80" y2="298.70" stroke="#8080c0" stroke-width="1.1" />
<polygon points="161.90,295.48 165.12,298.70 161.90,301.92 158.68,298.70" fill="#000080" />
<text x="178.15" y="301.30" font-size="8.7" font-weight="bold" fill="#000" stroke="#000" stroke-width="0.2" textLength="34.83" lengthAdjust="spacingAndGlyphs">f = 56 Hz</text>
<line x1="150.20" y1="309.80" x2="173.80" y2="309.80" stroke="#ff80c0" stroke-width="1.1" />
<circle cx="161.90" cy="309.80" r="2.91" fill="#ff0080" />
<text x="178.15" y="312.40" font-size="8.7" font-weight="bold" fill="#000" stroke="#000" stroke-width="0.2" textLength="39.57" lengthAdjust="spacingAndGlyphs">f = 109 Hz</text>
<line x1="150.20" y1="320.70" x2="173.80" y2="320.70" stroke="#a0a0e0" stroke-width="1.1" />
<circle cx="161.90" cy="320.70" r="2.91" fill="#000080" />
<ellipse cx="161.17" cy="319.83" rx="1.16" ry="0.82" fill="#fff" opacity="0.9"/>
<text x="178.15" y="323.30" font-size="8.7" font-weight="bold" fill="#000" stroke="#000" stroke-width="0.2" textLength="39.57" lengthAdjust="spacingAndGlyphs">f = 215 Hz</text>
<line x1="153.20" y1="331.80" x2="176.80" y2="331.80" stroke="#d0a0d0" stroke-width="1.1" />
<circle cx="164.90" cy="331.80" r="3.58" fill="#008000" />
<text x="181.15" y="334.40" font-size="8.7" font-weight="bold" fill="#000" stroke="#000" stroke-width="0.2" textLength="39.57" lengthAdjust="spacingAndGlyphs">f = 421 Hz</text>
<line x1="150.20" y1="343.10" x2="173.80" y2="343.10" stroke="#606060" stroke-width="1.1" />
<polygon points="161.90,346.18 164.98,340.79 158.82,340.79" fill="#000000" />
<text x="178.15" y="345.70" font-size="8.7" font-weight="bold" fill="#000" stroke="#000" stroke-width="0.2" textLength="39.57" lengthAdjust="spacingAndGlyphs">f = 590 Hz</text>
<polyline points="462.30,277.80 511.45,277.00 560.60,276.60 609.75,277.50 658.90,268.10" fill="none" stroke="#000000" stroke-width="1.0" stroke-linejoin="round" />
<polyline points="462.30,291.80 511.45,291.20 560.60,291.20 609.75,291.20 658.90,286.00" fill="none" stroke="#ff0000" stroke-width="1.0" stroke-linejoin="round" />
<polyline points="462.30,314.30 511.45,313.40 560.60,313.40 609.75,313.10 658.90,310.70" fill="none" stroke="#6060ff" stroke-width="1.0" stroke-linejoin="round" />
<polyline points="462.30,339.80 511.45,339.50 560.60,338.70 609.75,338.70 658.90,338.10" fill="none" stroke="#008080" stroke-width="1.0" stroke-linejoin="round" />
<polyline points="462.30,363.80 511.45,364.00 560.60,364.00 609.75,364.00 658.90,363.70" fill="none" stroke="#ff00ff" stroke-width="1.0" stroke-linejoin="round" />
<polyline points="462.30,383.70 511.45,384.40 560.60,385.20 609.75,383.50 658.90,383.80" fill="none" stroke="#808000" stroke-width="1.0" stroke-linejoin="round" />
<polyline points="462.30,397.60 511.45,398.40 560.60,399.20 609.75,397.20 658.90,396.50" fill="none" stroke="#5050b0" stroke-width="1.0" stroke-linejoin="round" />
<polyline points="462.30,406.30 511.45,407.10 560.60,408.20 609.75,406.00 658.90,404.80" fill="none" stroke="#a04040" stroke-width="1.0" stroke-linejoin="round" />
<polyline points="462.30,411.30 511.45,412.20 560.60,413.30 609.75,411.20 658.90,408.70" fill="none" stroke="#ff0080" stroke-width="1.0" stroke-linejoin="round" />
<polyline points="462.30,413.90 511.45,415.50 560.60,416.40 609.75,414.20 658.90,410.50" fill="none" stroke="#008000" stroke-width="1.0" stroke-linejoin="round" />
<rect x="459.95" y="275.45" width="4.70" height="4.70" fill="#000000" />
<rect x="509.10" y="274.65" width="4.70" height="4.70" fill="#000000" />
<rect x="558.25" y="274.25" width="4.70" height="4.70" fill="#000000" />
<rect x="607.40" y="275.15" width="4.70" height="4.70" fill="#000000" />
<rect x="656.55" y="265.75" width="4.70" height="4.70" fill="#000000" />
<circle cx="462.30" cy="291.80" r="2.80" fill="#ff0000" />
<circle cx="511.45" cy="291.20" r="2.80" fill="#ff0000" />
<circle cx="560.60" cy="291.20" r="2.80" fill="#ff0000" />
<circle cx="609.75" cy="291.20" r="2.80" fill="#ff0000" />
<circle cx="658.90" cy="286.00" r="2.80" fill="#ff0000" />
<polygon points="462.30,311.22 465.38,316.61 459.22,316.61" fill="#0000ff" />
<polygon points="511.45,310.32 514.53,315.71 508.37,315.71" fill="#0000ff" />
<polygon points="560.60,310.32 563.68,315.71 557.52,315.71" fill="#0000ff" />
<polygon points="609.75,310.02 612.83,315.41 606.67,315.41" fill="#0000ff" />
<polygon points="658.90,307.62 661.98,313.01 655.82,313.01" fill="#0000ff" />
<polygon points="462.30,342.88 465.38,337.49 459.22,337.49" fill="#008080" />
<polygon points="511.45,342.58 514.53,337.19 508.37,337.19" fill="#008080" />
<polygon points="560.60,341.78 563.68,336.39 557.52,336.39" fill="#008080" />
<polygon points="609.75,341.78 612.83,336.39 606.67,336.39" fill="#008080" />
<polygon points="658.90,341.18 661.98,335.79 655.82,335.79" fill="#008080" />
<polygon points="459.22,363.80 464.61,360.72 464.61,366.88" fill="#ff00ff" />
<polygon points="508.37,364.00 513.76,360.92 513.76,367.08" fill="#ff00ff" />
<polygon points="557.52,364.00 562.91,360.92 562.91,367.08" fill="#ff00ff" />
<polygon points="606.67,364.00 612.06,360.92 612.06,367.08" fill="#ff00ff" />
<polygon points="655.82,363.70 661.21,360.62 661.21,366.78" fill="#ff00ff" />
<polygon points="465.38,383.70 459.99,380.62 459.99,386.78" fill="#808000" />
<polygon points="514.53,384.40 509.14,381.32 509.14,387.48" fill="#808000" />
<polygon points="563.68,385.20 558.29,382.12 558.29,388.28" fill="#808000" />
<polygon points="612.83,383.50 607.44,380.42 607.44,386.58" fill="#808000" />
<polygon points="661.98,383.80 656.59,380.72 656.59,386.88" fill="#808000" />
<polygon points="462.30,394.38 465.52,397.60 462.30,400.82 459.08,397.60" fill="#000080" />
<polygon points="511.45,395.18 514.67,398.40 511.45,401.62 508.23,398.40" fill="#000080" />
<polygon points="560.60,395.98 563.82,399.20 560.60,402.42 557.38,399.20" fill="#000080" />
<polygon points="609.75,393.98 612.97,397.20 609.75,400.42 606.53,397.20" fill="#000080" />
<polygon points="658.90,393.28 662.12,396.50 658.90,399.72 655.68,396.50" fill="#000080" />
<polygon points="462.30,403.22 465.23,405.35 464.11,408.79 460.49,408.79 459.37,405.35" fill="#800000" />
<polygon points="511.45,404.02 514.38,406.15 513.26,409.59 509.64,409.59 508.52,406.15" fill="#800000" />
<polygon points="560.60,405.12 563.53,407.25 562.41,410.69 558.79,410.69 557.67,407.25" fill="#800000" />
<polygon points="609.75,402.92 612.68,405.05 611.56,408.49 607.94,408.49 606.82,405.05" fill="#800000" />
<polygon points="658.90,401.72 661.83,403.85 660.71,407.29 657.09,407.29 655.97,403.85" fill="#800000" />
<circle cx="462.30" cy="411.30" r="2.80" fill="#ff0080" />
<circle cx="511.45" cy="412.20" r="2.80" fill="#ff0080" />
<circle cx="560.60" cy="413.30" r="2.80" fill="#ff0080" />
<circle cx="609.75" cy="411.20" r="2.80" fill="#ff0080" />
<circle cx="658.90" cy="408.70" r="2.80" fill="#ff0080" />
<polygon points="462.30,410.40 463.23,412.63 465.63,412.82 463.80,414.39 464.36,416.73 462.30,415.47 460.24,416.73 460.80,414.39 458.97,412.82 461.37,412.63" fill="#008000" />
<polygon points="511.45,412.00 512.38,414.23 514.78,414.42 512.95,415.99 513.51,418.33 511.45,417.07 509.39,418.33 509.95,415.99 508.12,414.42 510.52,414.23" fill="#008000" />
<polygon points="560.60,412.90 561.53,415.13 563.93,415.32 562.10,416.89 562.66,419.23 560.60,417.97 558.54,419.23 559.10,416.89 557.27,415.32 559.67,415.13" fill="#008000" />
<polygon points="609.75,410.70 610.68,412.93 613.08,413.12 611.25,414.69 611.81,417.03 609.75,415.77 607.69,417.03 608.25,414.69 606.42,413.12 608.82,412.93" fill="#008000" />
<polygon points="658.90,407.00 659.83,409.23 662.23,409.42 660.40,410.99 660.96,413.33 658.90,412.07 656.84,413.33 657.40,410.99 655.57,409.42 657.97,409.23" fill="#008000" />
<line x1="437.80" y1="247.80" x2="437.80" y2="421.80" stroke="#000" stroke-width="1.8" />
<line x1="683.30" y1="247.80" x2="683.30" y2="421.80" stroke="#000" stroke-width="1.8" />
<line x1="436.90" y1="248.70" x2="684.20" y2="248.70" stroke="#000" stroke-width="1.8" />
<line x1="436.90" y1="420.90" x2="684.20" y2="420.90" stroke="#000" stroke-width="1.8" />
<line x1="462.30" y1="420.90" x2="462.30" y2="413.90" stroke="#000" stroke-width="1.5" />
<line x1="511.45" y1="420.90" x2="511.45" y2="413.90" stroke="#000" stroke-width="1.5" />
<line x1="560.60" y1="420.90" x2="560.60" y2="413.90" stroke="#000" stroke-width="1.5" />
<line x1="609.75" y1="420.90" x2="609.75" y2="413.90" stroke="#000" stroke-width="1.5" />
<line x1="658.90" y1="420.90" x2="658.90" y2="413.90" stroke="#000" stroke-width="1.5" />
<line x1="486.88" y1="420.90" x2="486.88" y2="417.10" stroke="#000" stroke-width="1.5" />
<line x1="536.02" y1="420.90" x2="536.02" y2="417.10" stroke="#000" stroke-width="1.5" />
<line x1="585.18" y1="420.90" x2="585.18" y2="417.10" stroke="#000" stroke-width="1.5" />
<line x1="634.33" y1="420.90" x2="634.33" y2="417.10" stroke="#000" stroke-width="1.5" />
<line x1="437.80" y1="420.90" x2="444.80" y2="420.90" stroke="#000" stroke-width="1.5" />
<line x1="437.80" y1="377.80" x2="444.80" y2="377.80" stroke="#000" stroke-width="1.5" />
<line x1="437.80" y1="334.70" x2="444.80" y2="334.70" stroke="#000" stroke-width="1.5" />
<line x1="437.80" y1="291.60" x2="444.80" y2="291.60" stroke="#000" stroke-width="1.5" />
<line x1="437.80" y1="248.50" x2="444.80" y2="248.50" stroke="#000" stroke-width="1.5" />
<line x1="437.80" y1="399.35" x2="441.60" y2="399.35" stroke="#000" stroke-width="1.5" />
<line x1="437.80" y1="356.25" x2="441.60" y2="356.25" stroke="#000" stroke-width="1.5" />
<line x1="437.80" y1="313.15" x2="441.60" y2="313.15" stroke="#000" stroke-width="1.5" />
<line x1="437.80" y1="270.05" x2="441.60" y2="270.05" stroke="#000" stroke-width="1.5" />
<text x="393.44" y="381.90" font-size="10.8" font-weight="bold" fill="#000" stroke="#000" stroke-width="0.2" textLength="31.58" lengthAdjust="spacingAndGlyphs">2.0x10</text>
<text x="427.63" y="375.70" font-size="5.6" font-weight="bold" fill="#000" stroke="#000" stroke-width="0.25" textLength="6.12" lengthAdjust="spacingAndGlyphs">-3</text>
<text x="393.64" y="338.80" font-size="10.8" font-weight="bold" fill="#000" stroke="#000" stroke-width="0.2" textLength="31.38" lengthAdjust="spacingAndGlyphs">4.0x10</text>
<text x="427.63" y="332.60" font-size="5.6" font-weight="bold" fill="#000" stroke="#000" stroke-width="0.25" textLength="6.12" lengthAdjust="spacingAndGlyphs">-3</text>
<text x="393.42" y="295.70" font-size="10.8" font-weight="bold" fill="#000" stroke="#000" stroke-width="0.2" textLength="31.60" lengthAdjust="spacingAndGlyphs">6.0x10</text>
<text x="427.63" y="289.50" font-size="5.6" font-weight="bold" fill="#000" stroke="#000" stroke-width="0.25" textLength="6.12" lengthAdjust="spacingAndGlyphs">-3</text>
<text x="393.47" y="252.60" font-size="10.8" font-weight="bold" fill="#000" stroke="#000" stroke-width="0.2" textLength="31.55" lengthAdjust="spacingAndGlyphs">8.0x10</text>
<text x="427.63" y="246.40" font-size="5.6" font-weight="bold" fill="#000" stroke="#000" stroke-width="0.25" textLength="6.12" lengthAdjust="spacingAndGlyphs">-3</text>
<text x="417.07" y="422.60" font-size="10.9" font-weight="bold" fill="#000" stroke="#000" stroke-width="0.2" textLength="14.97" lengthAdjust="spacingAndGlyphs">0.0</text>
<text x="457.84" y="437.40" font-size="10.9" font-weight="bold" fill="#000" stroke="#000" stroke-width="0.2" textLength="8.53" lengthAdjust="spacingAndGlyphs">-2</text>
<text x="506.93" y="437.40" font-size="10.9" font-weight="bold" fill="#000" stroke="#000" stroke-width="0.2" textLength="8.53" lengthAdjust="spacingAndGlyphs">-1</text>
<text x="557.74" y="437.40" font-size="10.9" font-weight="bold" fill="#000" stroke="#000" stroke-width="0.2" textLength="5.33" lengthAdjust="spacingAndGlyphs">0</text>
<text x="606.71" y="437.40" font-size="10.9" font-weight="bold" fill="#000" stroke="#000" stroke-width="0.2" textLength="5.33" lengthAdjust="spacingAndGlyphs">1</text>
<text x="656.06" y="437.40" font-size="10.9" font-weight="bold" fill="#000" stroke="#000" stroke-width="0.2" textLength="5.33" lengthAdjust="spacingAndGlyphs">2</text>
<text x="524.06" y="454.70" font-size="11.3" font-weight="bold" fill="#000" stroke="#000" stroke-width="0.2" textLength="66.27" lengthAdjust="spacingAndGlyphs">DC-Volt (V)</text>
<g transform="translate(0,370.8) rotate(-90)">
<text x="-0.22" y="382.60" font-size="17.5" font-weight="bold" fill="#000" stroke="#000" stroke-width="0.2" textLength="9.08" lengthAdjust="spacingAndGlyphs">σ</text>
<text x="7.93" y="386.40" font-size="7.4" font-weight="bold" fill="#000" stroke="#000" stroke-width="0.35" textLength="9.96" lengthAdjust="spacingAndGlyphs">AC</text>
<text x="17.60" y="383.30" font-size="12.5" font-weight="bold" fill="#000" stroke="#000" stroke-width="0.2" textLength="50.80" lengthAdjust="spacingAndGlyphs">( S/cm )</text>
</g>
<text x="590.07" y="263.00" font-size="11.0" font-weight="bold" fill="#000" stroke="#000" stroke-width="0.2" textLength="51.84" lengthAdjust="spacingAndGlyphs">T = 273 K</text>
<text x="362.79" y="251.50" font-size="14.6" font-weight="bold" fill="#000" stroke="#000" stroke-width="0.2" textLength="18.33" lengthAdjust="spacingAndGlyphs">(d)</text>
<line x1="453.10" y1="257.60" x2="472.90" y2="257.60" stroke="#ff80c0" stroke-width="1.1" />
<circle cx="463.00" cy="257.60" r="2.80" fill="#ff0080" />
<text x="476.04" y="260.90" font-size="9.2" font-weight="bold" fill="#000" stroke="#000" stroke-width="0.2" textLength="63.16" lengthAdjust="spacingAndGlyphs">f = 1355210 Hz</text>
<line x1="453.10" y1="267.80" x2="472.90" y2="267.80" stroke="#40a040" stroke-width="1.1" />
<polygon points="463.00,264.30 463.93,266.53 466.33,266.72 464.50,268.29 465.06,270.63 463.00,269.38 460.94,270.63 461.50,268.29 459.67,266.72 462.07,266.53" fill="#008000" />
<text x="476.04" y="271.10" font-size="9.2" font-weight="bold" fill="#000" stroke="#000" stroke-width="0.2" textLength="58.05" lengthAdjust="spacingAndGlyphs">f = 968005 Hz</text>
<line x1="488.70" y1="284.80" x2="508.30" y2="284.80" stroke="#c08080" stroke-width="1.1" />
<polygon points="498.50,281.72 501.43,283.85 500.31,287.29 496.69,287.29 495.57,283.85" fill="#800000" />
<text x="511.64" y="288.10" font-size="9.2" font-weight="bold" fill="#000" stroke="#000" stroke-width="0.2" textLength="63.16" lengthAdjust="spacingAndGlyphs">f = 1897290 Hz</text>
<line x1="470.70" y1="299.20" x2="490.80" y2="299.20" stroke="#a0a040" stroke-width="1.1" />
<polygon points="483.83,299.20 478.44,296.12 478.44,302.28" fill="#808000" />
<text x="493.54" y="302.50" font-size="9.2" font-weight="bold" fill="#000" stroke="#000" stroke-width="0.2" textLength="63.16" lengthAdjust="spacingAndGlyphs">f = 3718690 Hz</text>
<line x1="470.70" y1="309.30" x2="490.80" y2="309.30" stroke="#4040a0" stroke-width="1.1" />
<polygon points="480.75,306.08 483.97,309.30 480.75,312.52 477.53,309.30" fill="#000080" />
<text x="493.54" y="312.60" font-size="9.2" font-weight="bold" fill="#000" stroke="#000" stroke-width="0.2" textLength="63.16" lengthAdjust="spacingAndGlyphs">f = 2656210 Hz</text>
<line x1="469.80" y1="321.40" x2="489.60" y2="321.40" stroke="#40a0a0" stroke-width="1.1" />
<polygon points="479.70,324.48 482.78,319.09 476.62,319.09" fill="#008080" />
<text x="492.34" y="324.70" font-size="9.2" font-weight="bold" fill="#000" stroke="#000" stroke-width="0.2" textLength="63.16" lengthAdjust="spacingAndGlyphs">f = 7288630 Hz</text>
<line x1="469.80" y1="331.90" x2="489.60" y2="331.90" stroke="#ff40ff" stroke-width="1.1" />
<polygon points="476.62,331.90 482.01,328.82 482.01,334.98" fill="#ff00ff" />
<text x="492.34" y="335.20" font-size="9.2" font-weight="bold" fill="#000" stroke="#000" stroke-width="0.2" textLength="63.16" lengthAdjust="spacingAndGlyphs">f = 5206160 Hz</text>
<line x1="473.30" y1="346.40" x2="492.60" y2="346.40" stroke="#ff4040" stroke-width="1.1" />
<circle cx="482.95" cy="346.40" r="2.80" fill="#ff0000" />
<text x="495.84" y="349.70" font-size="9.2" font-weight="bold" fill="#000" stroke="#000" stroke-width="0.2" textLength="68.28" lengthAdjust="spacingAndGlyphs">f = 14285700 Hz</text>
<line x1="473.30" y1="356.40" x2="492.60" y2="356.40" stroke="#8080ff" stroke-width="1.1" />
<polygon points="482.95,353.32 486.03,358.71 479.87,358.71" fill="#0000ff" />
<text x="495.84" y="359.70" font-size="9.2" font-weight="bold" fill="#000" stroke="#000" stroke-width="0.2" textLength="68.28" lengthAdjust="spacingAndGlyphs">f = 10204100 Hz</text>
<line x1="474.50" y1="375.70" x2="494.30" y2="375.70" stroke="#404040" stroke-width="1.1" />
<rect x="482.16" y="373.46" width="4.48" height="4.48" fill="#000000" />
<text x="497.64" y="379.00" font-size="9.2" font-weight="bold" fill="#000" stroke="#000" stroke-width="0.2" textLength="68.28" lengthAdjust="spacingAndGlyphs">f = 20000000 Hz</text>
</svg>
</body></html>
